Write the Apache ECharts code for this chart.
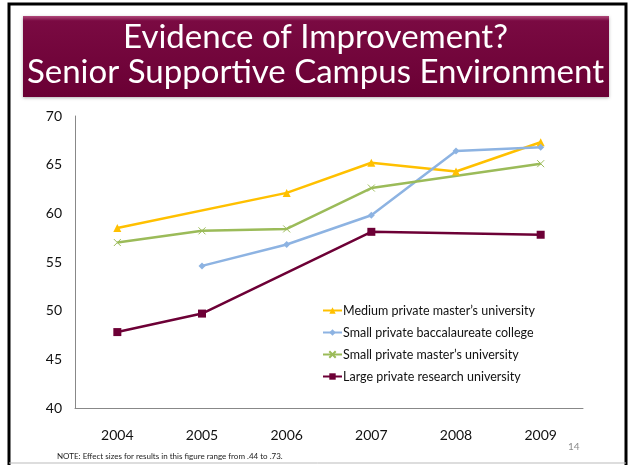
<!DOCTYPE html>
<html><head><meta charset="utf-8">
<style>html,body{margin:0;padding:0;background:#fff;}#c{width:631px;height:465px;}</style>
<script src="https://cdn.jsdelivr.net/npm/echarts@6/dist/echarts.min.js"></script>
</head><body><div id="c"></div>
<script>
var years = ['2004','2005','2006','2007','2008','2009'];
var yTicks = [40,45,50,55,60,65,70];
var medium = [58.5, null, 62.1, 65.2, 64.3, 67.3];
var smallBacc = [null, 54.6, 56.8, 59.8, 66.4, 66.8];
var smallMaster = [57.0, 58.2, 58.4, 62.6, null, 65.1];
var largeResearch = [47.8, 49.7, null, 58.1, null, 57.8];
var names = ['Medium private master’s university','Small private baccalaureate college','Small private master’s university','Large private research university'];
var colors = ['#FFC000','#8DB3E2','#9BBB59','#6D0036'];
var symbols = ['triangle','diamond','path://M0,0L10,10M10,0L0,10','rect'];
var data = [medium, smallBacc, smallMaster, largeResearch];
var font = 'Lato, "Open Sans", sans-serif';

var chart = echarts.init(document.getElementById('c'));
var series = data.map(function(d,i){
  return {
    name: names[i], type:'line', data:d, connectNulls:true,
    symbol: symbols[i], symbolSize: i===3?8:(i===2?7:(i===0?8:7)),
    showAllSymbol:true,
    lineStyle:{color:colors[i], width:2.5},
    itemStyle:{color:colors[i], borderColor: colors[i], borderWidth: i===2?1:0},
    emphasis:{disabled:true}
  };
});
chart.setOption({
  animation:false,
  graphic:[
    {type:'rect', shape:{x:9,y:4,width:617,height:470}, style:{fill:'none',stroke:'#000',lineWidth:3}},
    {type:'line', shape:{x1:9,y1:463,x2:626,y2:463}, style:{stroke:'#bbb',lineWidth:1}},
    {type:'rect', shape:{x:23,y:16,width:586,height:81},
      style:{fill:{type:'linear',x:0,y:0,x2:0,y2:1,colorStops:[{offset:0,color:'#B0497A'},{offset:0.06,color:'#7A0A42'},{offset:1,color:'#6A0034'}]}, shadowBlur:3, shadowColor:'rgba(0,0,0,0.3)', shadowOffsetY:1}},
    {type:'text', left:'center', top:20, style:{text:'Evidence of Improvement?\nSenior Supportive Campus Environment', fill:'#fff', font:'33px '+font, textAlign:'center', lineHeight:35}},
    {type:'text', left:568, top:442, style:{text:'14', fill:'#8c8c8c', font:'10px '+font}},
    {type:'text', left:57, top:452, style:{text:'NOTE: Effect sizes for results in this figure range from .44 to .73.', fill:'#222', font:'8px '+font}}
  ],
  legend:{
    orient:'vertical', left:317, top:299, itemGap:9, itemWidth:19, itemHeight:8,
    textStyle:{fontSize:12.5, color:'#111', fontFamily:font, padding:[0,0,0,-4]},
    data:names
  },
  grid:{left:75, right:48, top:116, bottom:57, containLabel:false},
  xAxis:{type:'category', data:years, boundaryGap:true,
    axisLine:{lineStyle:{color:'#888'}}, axisTick:{show:false},
    axisLabel:{fontSize:14, color:'#111', fontFamily:font, margin:20}},
  yAxis:{type:'value', min:40, max:70, interval:5,
    axisLine:{show:true, lineStyle:{color:'#888'}}, axisTick:{show:false}, splitLine:{show:false},
    axisLabel:{fontSize:14, color:'#111', fontFamily:font, margin:13,
      formatter:function(v){return yTicks.indexOf(v)>=0 ? String(v) : '';}}},
  series:series
});
</script></body></html>
